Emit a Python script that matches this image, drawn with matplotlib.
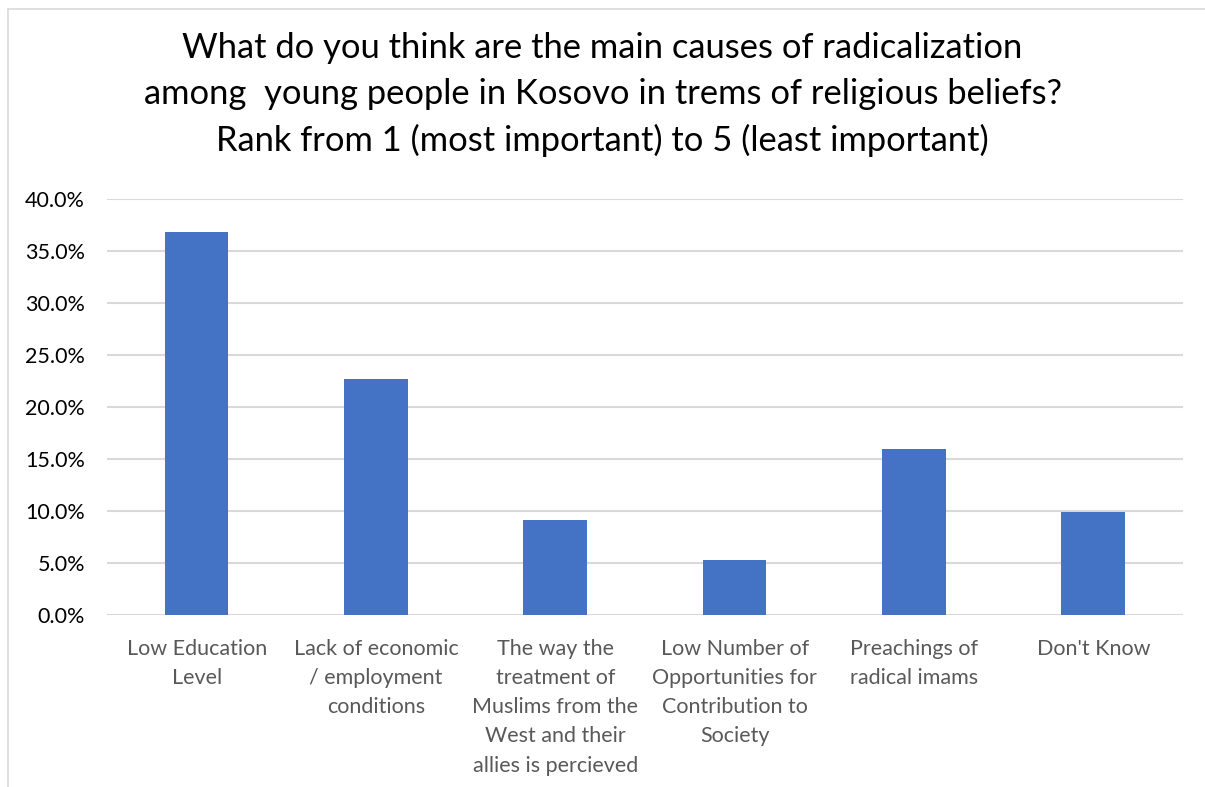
import matplotlib
matplotlib.use("Agg")
import matplotlib.pyplot as plt
from matplotlib.lines import Line2D
from matplotlib.ticker import FuncFormatter

# --- Data ---
categories = [
    "Low Education\nLevel",
    "Lack of economic\n/ employment\nconditions",
    "The way the\ntreatment of\nMuslims from the\nWest and their\nallies is percieved",
    "Low Number of\nOpportunities for\nContribution to\nSociety",
    "Preachings of\nradical imams",
    "Don't Know",
]
shares = [36.8, 22.7, 9.1, 5.3, 16.0, 9.9]
yticks = [0, 5, 10, 15, 20, 25, 30, 35, 40]

title = ("What do you think are the main causes of radicalization\n"
         "among  young people in Kosovo in trems of religious beliefs?\n"
         "Rank from 1 (most important) to 5 (least important)")

plt.rcParams["font.family"] = ["Lato", "DejaVu Sans"]

fig = plt.figure(figsize=(12.05, 7.87), dpi=100)
ax = fig.add_axes([0.0888, 0.2186, 0.8929, 0.5286])

x = range(len(categories))
ax.bar(x, shares, width=0.355, color="#4472C4", zorder=3)

ax.set_xlim(-0.5, len(categories) - 0.5)
ax.set_ylim(0, 40)
ax.set_yticks(yticks)
ax.yaxis.set_major_formatter(FuncFormatter(lambda v, p: f"{v:.1f}%"))
ax.set_xticks(list(x))
ax.set_xticklabels(categories, fontsize=15.5, color="#595959", linespacing=1.58)
ax.tick_params(axis="y", labelsize=15.5, colors="#000000", length=0, pad=16)
ax.tick_params(axis="x", length=0, pad=17)

ax.grid(axis="y", color="#d9d9d9", linewidth=1.5, zorder=0)
for s in ax.spines.values():
    s.set_visible(False)

fig.text(0.5, 0.880, title, ha="center", va="center", fontsize=24.8,
         color="#000000", linespacing=1.52)

# light frame around the chart area
fig.add_artist(Line2D([8 / 1205, 1.0], [1 - 9 / 787, 1 - 9 / 787],
                      transform=fig.transFigure, color="#d9d9d9", linewidth=1.2))
fig.add_artist(Line2D([8 / 1205, 8 / 1205], [0.0, 1 - 9 / 787],
                      transform=fig.transFigure, color="#d9d9d9", linewidth=1.2))

fig.savefig("out.png", dpi=100, facecolor="white")
